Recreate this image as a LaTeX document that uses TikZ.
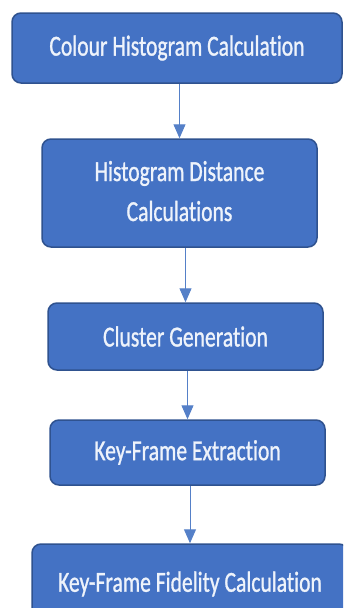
\documentclass[tikz,border=0pt]{standalone}
\usepackage{fontspec}
\setmainfont{Carlito}[Ligatures=NoCommon, FakeBold=1.2]
\usetikzlibrary{arrows.meta}
\definecolor{boxfill}{HTML}{4472C4}
\definecolor{boxedge}{HTML}{2F528F}
\definecolor{arrowcol}{HTML}{5580C8}
\definecolor{txtcol}{HTML}{EEF3FB}
\tikzset{
  procbox/.style={draw=boxedge, line width=1.5pt, fill=boxfill, rounded corners=9pt,
    inner sep=0pt, text=txtcol, font=\fontsize{29}{40}\selectfont},
  flowarrow/.style={draw=arrowcol, line width=1pt, -{Triangle[width=12pt,length=14pt]}, arrowcol}
}
\newcommand{\sqz}[1]{\raisebox{-2pt}{\scalebox{0.745}[1]{#1}}}
\begin{document}
\begin{tikzpicture}[x=1pt,y=-1pt]
\clip (0,0) rectangle (343,608);
\fill[white] (0,0) rectangle (343,608);
\node[procbox, minimum width=330pt, minimum height=70pt] (b1) at (177,48) {\sqz{Colour Histogram Calculation}};
\node[procbox, minimum width=275pt, minimum height=108pt] (b2) at (179.5,193) {\sqz{\begin{tabular}{@{}c@{}}Histogram Distance\\Calculations\end{tabular}}};
\node[procbox, minimum width=275pt, minimum height=67pt] (b3) at (185.5,336.5) {\sqz{Cluster Generation}};
\node[procbox, minimum width=275pt, minimum height=65pt] (b4) at (187.5,452.5) {\sqz{Key-Frame Extraction}};
\node[procbox, minimum width=316pt, minimum height=80pt] (b5) at (190,584) {\sqz{Key-Frame Fidelity Calculation}};
\draw[flowarrow] (b1.south -| b2.north) -- (b2.north);
\draw[flowarrow] (b2.south -| b3.north) -- (b3.north);
\draw[flowarrow] (b3.south -| b4.north) -- (b4.north);
\draw[flowarrow] (b4.south -| b5.north) -- (b5.north);
\end{tikzpicture}
\end{document}
